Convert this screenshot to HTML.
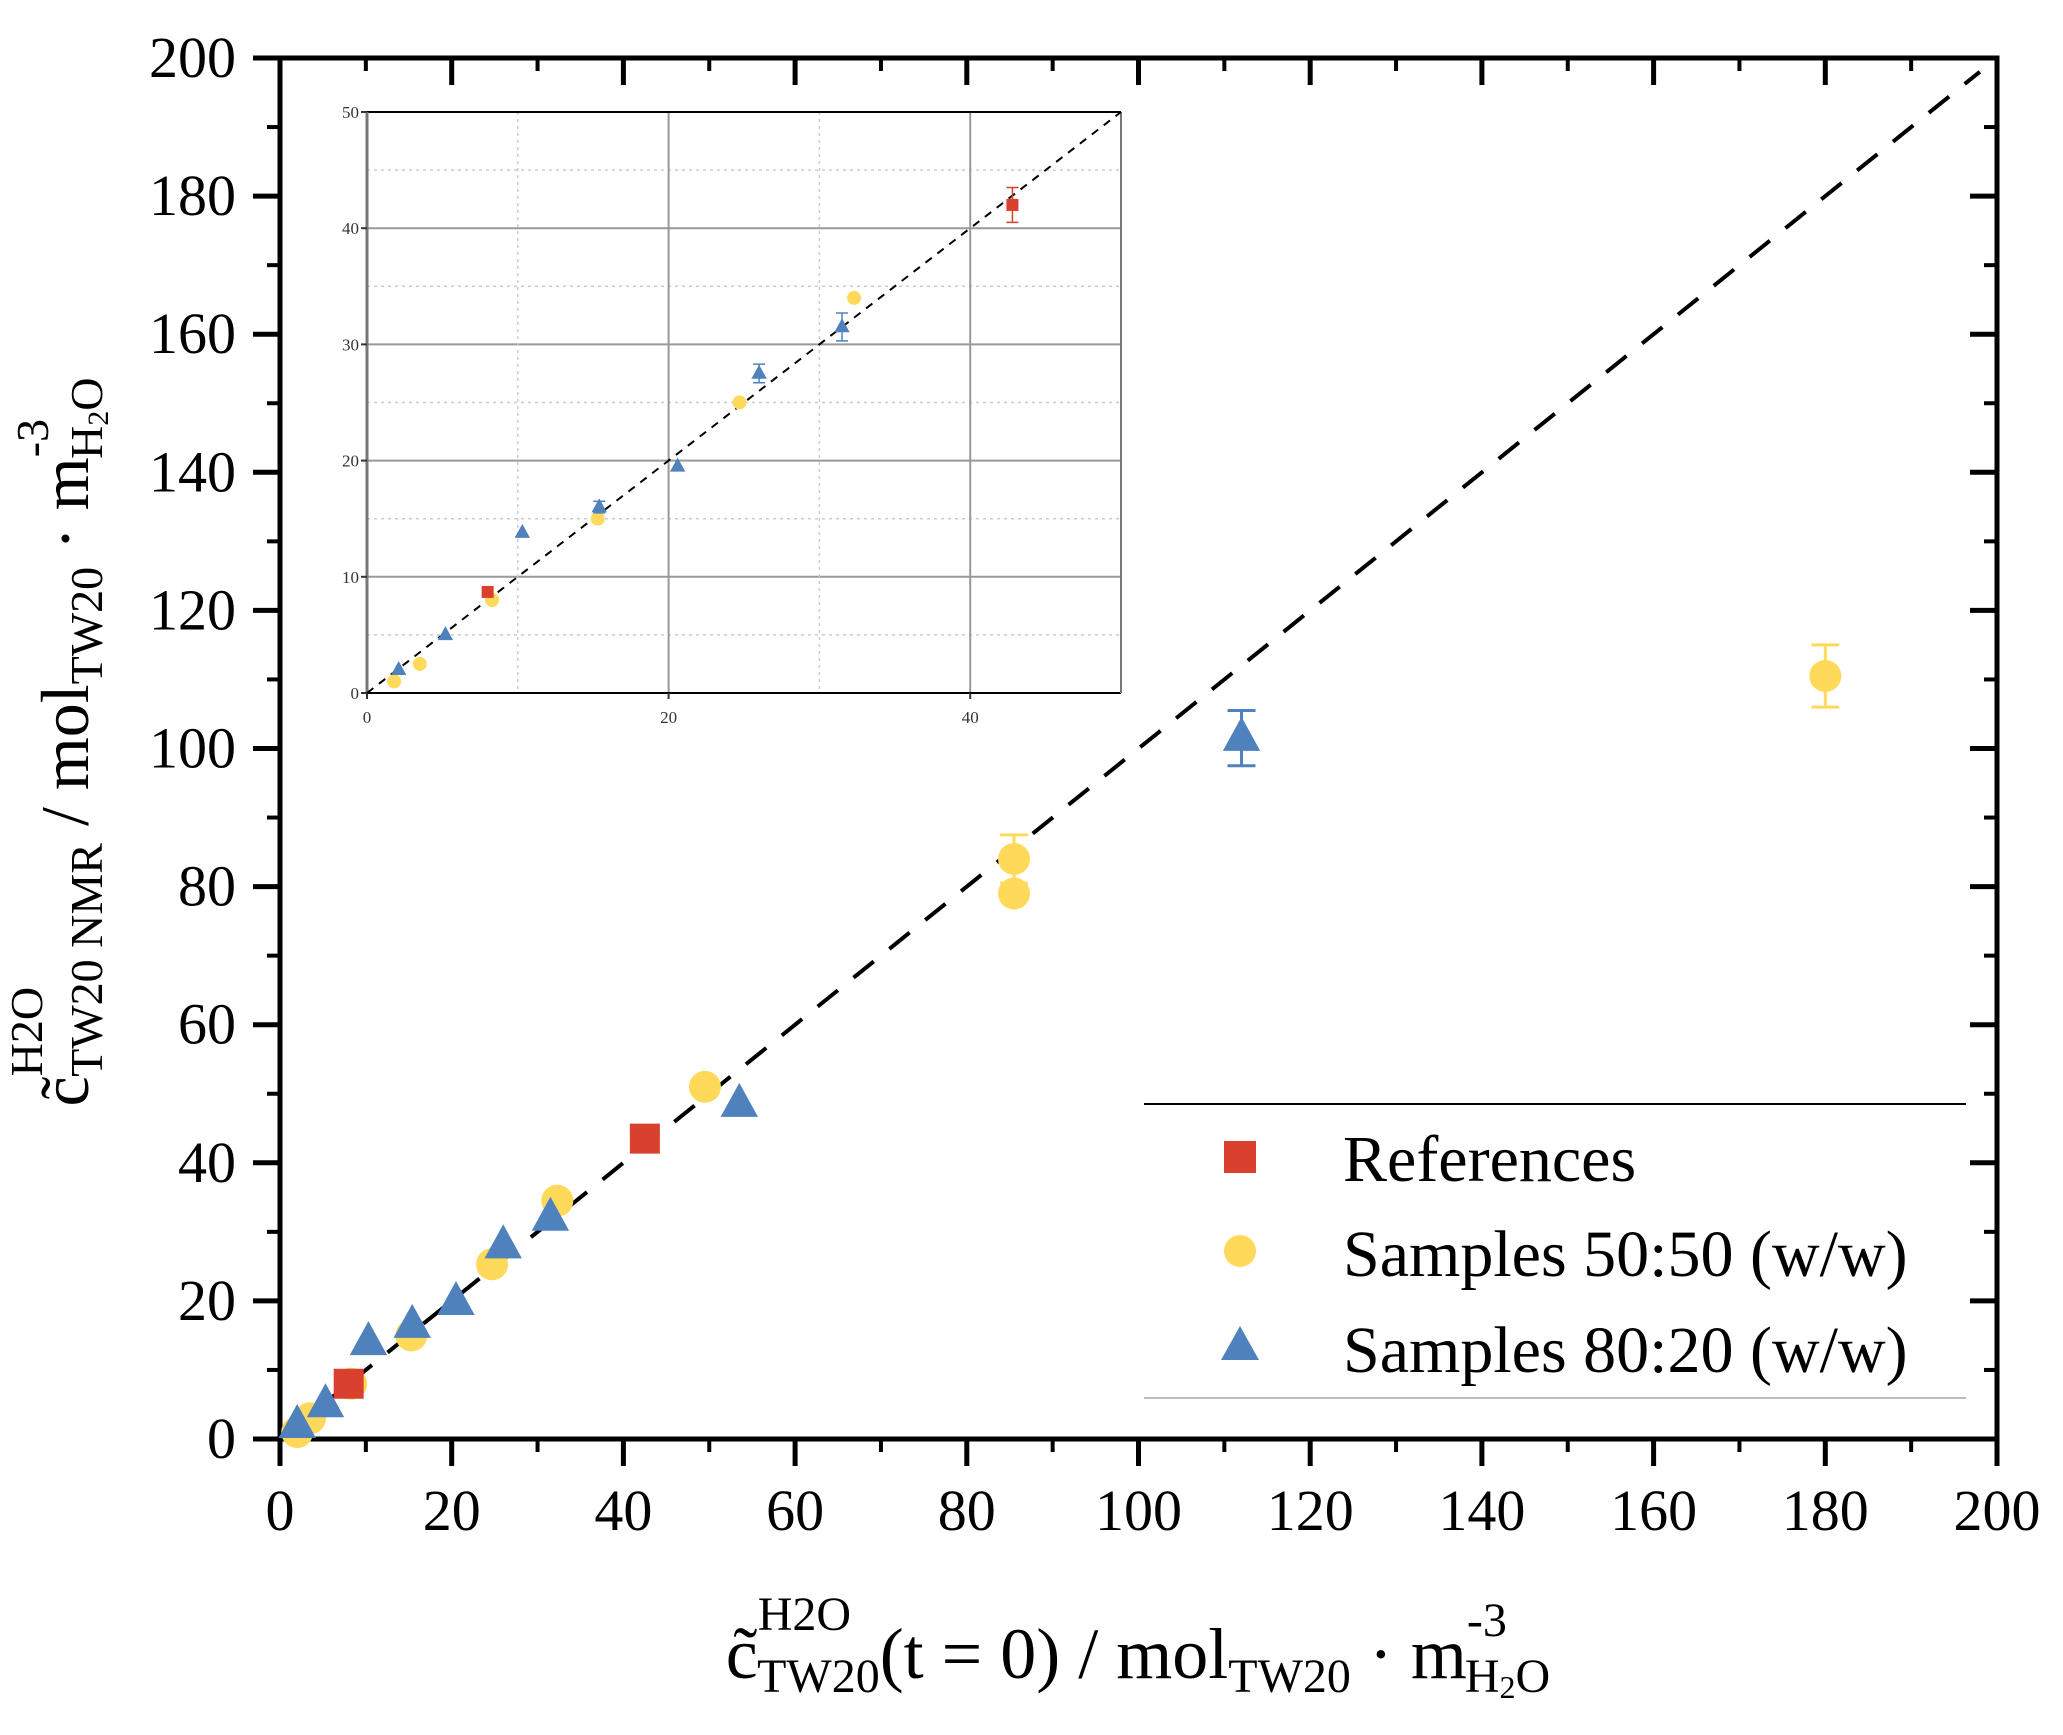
<!DOCTYPE html>
<html><head><meta charset="utf-8"><style>
html,body{margin:0;padding:0;background:#fff;}
svg{display:block;font-family:"Liberation Serif",serif;}
</style></head><body>
<svg id="chart" width="2063" height="1735" viewBox="0 0 2063 1735" xmlns="http://www.w3.org/2000/svg">
<g id="main"></g>
<g id="inset"></g>
<g id="legend">
  <line x1="1144" y1="1104" x2="1966" y2="1104" stroke="#000" stroke-width="2"/>
  <line x1="1144" y1="1398" x2="1966" y2="1398" stroke="#bbb" stroke-width="2"/>
  <rect x="1224" y="1141" width="32" height="32" fill="#d9402e"/>
  <circle cx="1240" cy="1251" r="16" fill="#ffd95a"/>
  <polygon points="1240,1326 1259,1360 1221,1360" fill="#4f81bd"/>
  <text x="1343" y="1181" font-size="66">References</text>
  <text x="1343" y="1276" font-size="66">Samples 50:50 (w/w)</text>
  <text x="1343" y="1372" font-size="66">Samples 80:20 (w/w)</text>
</g>
<text x="1138" y="1678" font-size="72" text-anchor="middle">c&#771;<tspan font-size="48" dy="-48">H2O</tspan><tspan font-size="48" dx="-94" dy="62">TW20</tspan><tspan dy="-14">(t = 0) / mol</tspan><tspan font-size="48" dy="14">TW20</tspan><tspan dy="-14"> · m</tspan><tspan font-size="48" dy="-42">-3</tspan><tspan font-size="48" dx="-42" dy="56">H</tspan><tspan font-size="32" dy="6">2</tspan><tspan font-size="48" dy="-6">O</tspan></text>
<text transform="translate(88,742) rotate(-90)" x="0" y="0" font-size="68" text-anchor="middle">c&#771;<tspan font-size="46" dy="-46">H2O</tspan><tspan font-size="46" dx="-90" dy="60">TW20 NMR</tspan><tspan dy="-14"> / mol</tspan><tspan font-size="46" dy="14">TW20</tspan><tspan dy="-14"> · m</tspan><tspan font-size="46" dy="-40">-3</tspan><tspan font-size="46" dx="-40" dy="54">H</tspan><tspan font-size="30" dy="6">2</tspan><tspan font-size="46" dy="-6">O</tspan></text>
</svg>
<script>
// Main chart data
const refX = [8, 42.5];
const refY = [8, 43.5];
const s50X = [2, 3.5, 8.3, 15.3, 24.7, 32.3, 49.5, 85.5, 85.5, 180];
const s50Y = [1, 3, 8, 15, 25.3, 34.5, 51, 84, 79, 110.5];
const s50Err = [0, 0, 0, 0, 0, 0, 0, 3.5, 0, 4.5];
const s80X = [2, 5.3, 10.3, 15.4, 20.5, 26, 31.5, 53.5, 112];
const s80Y = [2, 5, 14, 16.5, 19.8, 28, 32, 48.5, 101.5];
const s80Err = [0, 0, 0, 0, 0, 0, 0, 0, 4];
const mainTicks = [0, 20, 40, 60, 80, 100, 120, 140, 160, 180, 200];
// Inset data
const iRefX = [8, 42.8];
const iRefY = [8.7, 42];
const iRefErr = [0, 1.5];
const i50X = [1.8, 3.5, 8.3, 15.3, 24.7, 32.3];
const i50Y = [1, 2.5, 8, 15, 25, 34];
const i80X = [2.1, 5.2, 10.3, 15.4, 20.6, 26, 31.5];
const i80Y = [2, 5, 13.8, 16, 19.5, 27.5, 31.5];
const i80Err = [0, 0, 0, 0.5, 0, 0.8, 1.2];
const insetTicks = [0, 10, 20, 30, 40, 50];
const insetXTicks = [0, 20, 40];

const NS = "http://www.w3.org/2000/svg";
function mk(parent, tag, attrs) {
  const e = document.createElementNS(NS, tag);
  for (const k in attrs) e.setAttribute(k, attrs[k]);
  parent.appendChild(e);
  return e;
}
const C = {red:"#d9402e", yel:"#ffd95a", blue:"#4f81bd"};

const L=280,R=1997,T=58,B=1439;
const mx = v => L + (v/200)*(R-L);
const my = v => B - (v/200)*(B-T);
const gm = document.getElementById('main');
let fr = mk(gm,'rect',{x:L,y:T,width:R-L,height:B-T,fill:'none',stroke:'#000','stroke-width':5});


for (let v=0; v<=200; v+=10) {
  const major = v%20===0;
  const len = major?27:13;
  mk(gm,'line',{x1:mx(v),y1:B,x2:mx(v),y2:B+len,stroke:'#000','stroke-width':major?5:4});
  mk(gm,'line',{x1:mx(v),y1:T,x2:mx(v),y2:T+len,stroke:'#000','stroke-width':major?5:4});
  mk(gm,'line',{x1:L,y1:my(v),x2:L-len,y2:my(v),stroke:'#000','stroke-width':major?5:4});
  mk(gm,'line',{x1:R,y1:my(v),x2:R-len,y2:my(v),stroke:'#000','stroke-width':major?5:4});
}
mainTicks.forEach(v => {
  const t = mk(gm,'text',{x:mx(v),y:1530,'font-size':58,'text-anchor':'middle'});
  t.textContent = v;
  
  
  const u = mk(gm,'text',{x:236,y:my(v)+19,'font-size':58,'text-anchor':'end'});
  u.textContent = v;
  
  
});
const dl = mk(gm,'line',{x1:mx(0),y1:my(0),x2:mx(198),y2:my(198),stroke:'#000','stroke-width':4,'stroke-dasharray':'26 20'});



function errbar(g,x,y,e,sx,sy,col,w,cap){
  if(!e) return;
  mk(g,'line',{x1:sx(x),y1:sy(y-e),x2:sx(x),y2:sy(y+e),stroke:col,'stroke-width':w});
  mk(g,'line',{x1:sx(x)-cap,y1:sy(y-e),x2:sx(x)+cap,y2:sy(y-e),stroke:col,'stroke-width':w});
  mk(g,'line',{x1:sx(x)-cap,y1:sy(y+e),x2:sx(x)+cap,y2:sy(y+e),stroke:col,'stroke-width':w});
}
function drawSet(g,sx,sy,xs,ys,errs,kind,size,ew,cap,name){
  xs.forEach((x,i)=>{
    const y=ys[i], e=errs?errs[i]:0;
    const col = kind==='sq'?C.red:kind==='ci'?C.yel:C.blue;
    errbar(g,x,y,e,sx,sy,col,ew,cap);
    let el;
    if(kind==='sq') el=mk(g,'rect',{x:sx(x)-size,y:sy(y)-size,width:2*size,height:2*size,fill:col});
    else if(kind==='ci') el=mk(g,'circle',{cx:sx(x),cy:sy(y),r:size,fill:col});
    else { const cx=sx(x),cy=sy(y); el=mk(g,'polygon',{points:`${cx},${cy-size*1.25} ${cx+size*1.1},${cy+size*0.75} ${cx-size*1.1},${cy+size*0.75}`,fill:col}); }
    
    
  });
}
drawSet(gm,mx,my,s50X,s50Y,s50Err,'ci',16,3,14,'point-samples-50-50');
drawSet(gm,mx,my,s80X,s80Y,s80Err,'tr',17,3,14,'point-samples-80-20');
drawSet(gm,mx,my,refX,refY,null,'sq',15,3,14,'point-references');

const IL=367,IR=1121,IT=112,IB=693;
const ix = v => IL + (v/50)*(IR-IL);
const iy = v => IB - (v/50)*(IB-IT);
const gi = document.getElementById('inset');
mk(gi,'rect',{x:IL,y:IT,width:IR-IL,height:IB-IT,fill:'#fff'});
for (let v=5; v<50; v+=5){
  const maj = v%10===0;
  mk(gi,'line',{x1:IL,y1:iy(v),x2:IR,y2:iy(v),stroke:maj?'#999':'#ccc','stroke-width':maj?2:1.5,'stroke-dasharray':maj?'none':'3 4'});
}
for (let v=10; v<50; v+=10){
  const maj = v%20===0;
  mk(gi,'line',{x1:ix(v),y1:IT,x2:ix(v),y2:IB,stroke:maj?'#999':'#ccc','stroke-width':maj?2:1.5,'stroke-dasharray':maj?'none':'3 4'});
}
mk(gi,'line',{x1:IL,y1:IT,x2:IR,y2:IT,stroke:'#000','stroke-width':2});
mk(gi,'line',{x1:IL,y1:IB,x2:IR,y2:IB,stroke:'#000','stroke-width':2});
mk(gi,'line',{x1:IL,y1:IT,x2:IL,y2:IB,stroke:'#777','stroke-width':3});
mk(gi,'line',{x1:IR,y1:IT,x2:IR,y2:IB,stroke:'#777','stroke-width':2});
insetTicks.forEach(v=>{
  const t=mk(gi,'text',{x:IL-8,y:iy(v)+6,'font-size':17,'text-anchor':'end',fill:'#333'});
  t.textContent=v;
  
  
  mk(gi,'line',{x1:IL-6,y1:iy(v),x2:IL,y2:iy(v),stroke:'#333','stroke-width':2});
});
insetXTicks.forEach(v=>{
  const t=mk(gi,'text',{x:ix(v),y:IB+30,'font-size':17,'text-anchor':'middle',fill:'#333'});
  t.textContent=v;
  
  
  mk(gi,'line',{x1:ix(v),y1:IB,x2:ix(v),y2:IB+6,stroke:'#333','stroke-width':2});
});
const idl = mk(gi,'line',{x1:ix(0),y1:iy(0),x2:ix(50),y2:iy(50),stroke:'#000','stroke-width':2,'stroke-dasharray':'8 7'});


drawSet(gi,ix,iy,i50X,i50Y,null,'ci',7,1.5,6,'inset-point-samples-50-50');
drawSet(gi,ix,iy,i80X,i80Y,i80Err,'tr',7,1.5,6,'inset-point-samples-80-20');
drawSet(gi,ix,iy,iRefX,iRefY,iRefErr,'sq',6,1.5,6,'inset-point-references');
</script>
</body></html>
